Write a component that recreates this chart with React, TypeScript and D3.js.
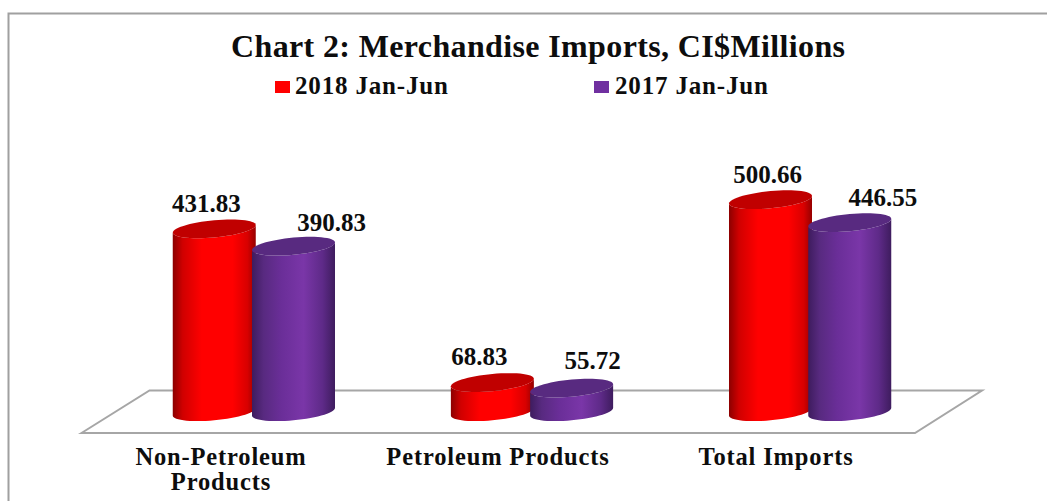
import React from "react";
import * as d3 from "d3";

const categories = ["Non-Petroleum Products", "Petroleum Products", "Total Imports"];
const categoryLines = [["Non-Petroleum", "Products"], ["Petroleum Products"], ["Total Imports"]];
const series2018 = [431.83, 68.83, 500.66];
const series2017 = [390.83, 55.72, 446.55];
const seriesNames = ["2018 Jan-Jun", "2017 Jan-Jun"];
const TITLE = "Chart 2: Merchandise Imports, CI$Millions";

const FONT = "'Liberation Serif', serif";
const W = 1047, H = 501, BASE = 415.5, RX = 41.5, TILT = 3.8, RY = 8.6;

const x = d3.scalePoint<string>().domain(categories).range([253.75, 810]);
const y = d3.scaleLinear().domain([0, 500.66]).range([BASE, 203.5]);

const styles = [
  { top: "#c00000", grad: "redBody", dx: -39.5, labelDx: [-8, -13, -3], labelY: [212, 365, 183] },
  { top: "#582a80", grad: "purpleBody", dx: 39.75, labelDx: [38, 21, 33], labelY: [231, 369, 206] },
];

const ang = d3.range(0, 61).map((i) => (i / 60) * 2 * Math.PI);
const pt = (cx: number, cy: number, t: number): [number, number] => [
  cx + RX * Math.cos(t),
  cy - TILT * Math.cos(t) - RY * Math.sin(t),
];
const line = d3.line();

const ellipse = (cx: number, cy: number) => line(ang.map((t) => pt(cx, cy, t))) + "Z";
const body = (cx: number, top: number, base: number) => {
  const half = d3.range(0, 31).map((i) => Math.PI + (i / 30) * Math.PI);
  const lower = half.map((t) => pt(cx, base, t));
  const upper = half.map((t) => pt(cx, top, t));
  return line([...upper, ...lower.slice().reverse()]) + "Z";
};

export default function App() {
  const rows = [series2018, series2017];
  return (
    <svg width={W} height={H} style={{ position: "absolute", left: 0, top: 0, background: "#fff" }}>
      <defs>
        <linearGradient id="redBody" x1="0" x2="1" y1="0" y2="0">
          <stop offset="0" stopColor="#8c0000" />
          <stop offset="0.12" stopColor="#d00000" />
          <stop offset="0.35" stopColor="#ff0000" />
          <stop offset="0.72" stopColor="#ff0000" />
          <stop offset="0.9" stopColor="#d80000" />
          <stop offset="1" stopColor="#960000" />
        </linearGradient>
        <linearGradient id="purpleBody" x1="0" x2="1" y1="0" y2="0">
          <stop offset="0" stopColor="#3e1c5e" />
          <stop offset="0.14" stopColor="#582a80" />
          <stop offset="0.35" stopColor="#6a2e98" />
          <stop offset="0.62" stopColor="#7a36a8" />
          <stop offset="0.85" stopColor="#5e2a88" />
          <stop offset="1" stopColor="#3e1c5e" />
        </linearGradient>
      </defs>
      <path d="M8.5,501 V13.5 H1047" fill="none" stroke="#a0a0a0" strokeWidth={2} />
      <path
        d={(line([[81.5, 433], [149.5, 390.5], [982, 390.5], [915, 433]]) as string) + "Z"}
        fill="#fff"
        stroke="#a6a6a6"
        strokeWidth={2}
      />
      <text x={538} y={57} textAnchor="middle" fontFamily={FONT} fontWeight="bold" fontSize={32} textLength={614} lengthAdjust="spacing" fill="#0d0d0d">
        {TITLE}
      </text>
      {seriesNames.map((n, i) => (
        <g key={n}>
          <rect x={[275, 594][i]} y={81} width={15} height={12} fill={["#ff0000", "#7030a0"][i]} />
          <text x={[295, 615][i]} y={94} fontFamily={FONT} fontWeight="bold" fontSize={25} textLength={153} lengthAdjust="spacing" fill="#0d0d0d">
            {n}
          </text>
        </g>
      ))}
      {categories.map((c, ci) => (
        <g key={c}>
          {rows.map((vals, si) => {
            const s = styles[si];
            const cx = (x(c) as number) + s.dx;
            const top = y(vals[ci]) - TILT;
            const base = BASE - TILT;
            return (
              <g key={si}>
                <path d={body(cx, top, base)} fill={`url(#${s.grad})`} />
                <path d={ellipse(cx, top)} fill={s.top} />
              </g>
            );
          })}
        </g>
      ))}
      {categories.map((c, ci) =>
        rows.map((vals, si) => {
          const s = styles[si];
          return (
            <text key={c + si} x={(x(c) as number) + s.dx + s.labelDx[ci]} y={s.labelY[ci]} textAnchor="middle" fontFamily={FONT} fontWeight="bold" fontSize={25} fill="#0d0d0d">
              {vals[ci].toFixed(2)}
            </text>
          );
        })
      )}
      {categories.map((c, ci) =>
        categoryLines[ci].map((l, li) => (
          <text key={l} x={[221, 498, 776][ci]} y={465 + li * 25} textAnchor="middle" fontFamily={FONT} fontWeight="bold" fontSize={24.5} letterSpacing={0.85} fill="#0d0d0d">
            {l}
          </text>
        ))
      )}
    </svg>
  );
}
